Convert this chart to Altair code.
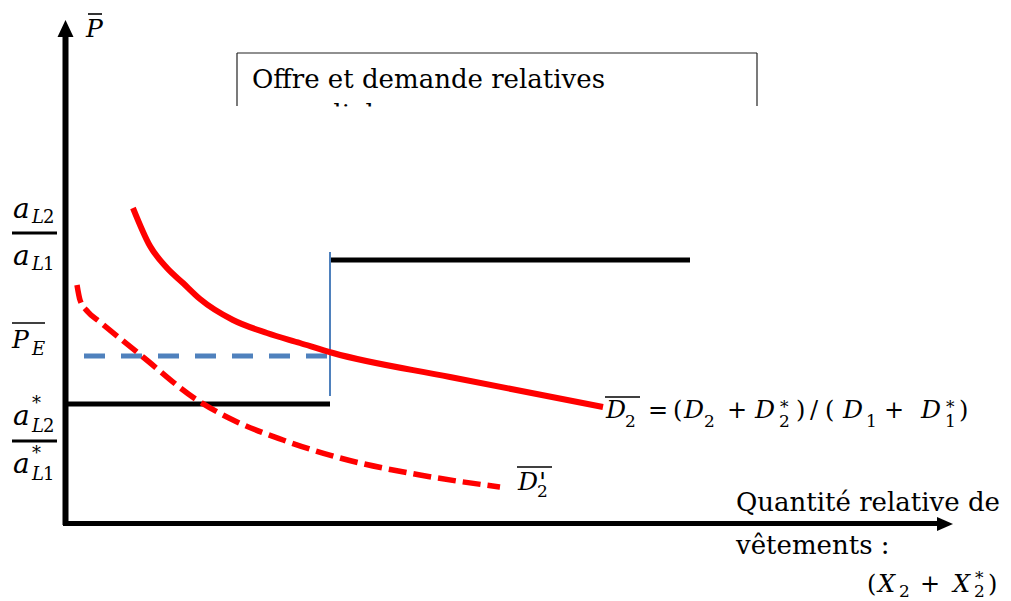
import altair as alt
import pandas as pd

# ---------------- data (relative quantity q, relative price p; origin = axes corner)
# relative demand D2 (solid red)
d2_q = [67, 84, 101, 117, 134, 167, 201, 234, 267, 384, 537]
d2_p = [315, 277, 255, 240, 224, 203, 190, 180, 170, 146, 116]
# shifted relative demand D2' (dashed red)
d2p_q = [11, 14, 22, 34, 77, 131, 167, 217, 274, 354, 434]
d2p_p = [238, 223, 211, 201, 166, 123, 103, 83, 65, 48, 36]
# relative supply (step)
supply_q_start = [0, 264]
supply_q_end = [264, 624]
supply_p = [119, 263]
# equilibrium
q_eq = 264
p_eq = 167
vert_p = [127, 271]

X_DOM = [-58, 937]
Y_DOM = [-78, 515]
xs = alt.Scale(domain=X_DOM, nice=False, zero=False)
ys = alt.Scale(domain=Y_DOM, nice=False, zero=False)


def X(f):
    return alt.X(f, type="quantitative", scale=xs, axis=None)


def Y(f):
    return alt.Y(f, type="quantitative", scale=ys, axis=None)


RED = "#ff0000"
BLUE = "#4f81bd"
FONT = "DejaVu Serif"

curve_d2 = pd.DataFrame({"x": d2_q, "y": d2_p, "o": range(len(d2_q))})
curve_d2p = pd.DataFrame({"x": d2p_q, "y": d2p_p, "o": range(len(d2p_q))})
supply = pd.DataFrame({"x": supply_q_start, "x2": supply_q_end, "y": supply_p})

layers = []

# title box (second line hidden below the frame)
title_df = pd.DataFrame({"x": [186, 202], "y": [435, 400],
                         "t": ["Offre et demande relatives", "mondiales"]})
layers.append(alt.Chart(title_df).mark_text(font=FONT, fontSize=26, align="left",
                                            baseline="alphabetic", color="black")
              .encode(x=X("x"), y=Y("y"), text="t:N"))
layers.append(alt.Chart(pd.DataFrame({"x": [130], "x2": [740], "y": [416.5], "y2": [370]}))
              .mark_rect(color="white").encode(x=X("x"), x2="x2:Q", y=Y("y"), y2="y2:Q"))
box = pd.DataFrame({"x": [171, 171, 691], "x2": [691, 171, 691],
                    "y": [470, 470, 470], "y2": [470, 417, 417]})
layers.append(alt.Chart(box).mark_rule(color="#222222", strokeWidth=1.2)
              .encode(x=X("x"), x2="x2:Q", y=Y("y"), y2="y2:Q"))

# supply steps
layers.append(alt.Chart(supply).mark_rule(color="black", strokeWidth=5)
              .encode(x=X("x"), x2="x2:Q", y=Y("y")))
# equilibrium guides
layers.append(alt.Chart(pd.DataFrame({"x": [q_eq], "y": [vert_p[0]], "y2": [vert_p[1]]}))
              .mark_rule(color=BLUE, strokeWidth=2).encode(x=X("x"), y=Y("y"), y2="y2:Q"))
layers.append(alt.Chart(pd.DataFrame({"x": [0], "x2": [q_eq], "y": [p_eq]}))
              .mark_rule(color=BLUE, strokeWidth=5, strokeDash=[21, 16], strokeDashOffset=19)
              .encode(x=X("x"), x2="x2:Q", y=Y("y")))

# demand curves
layers.append(alt.Chart(curve_d2).mark_line(color=RED, strokeWidth=6, interpolate="monotone")
              .encode(x=X("x"), y=Y("y"), order="o:Q"))
layers.append(alt.Chart(curve_d2p).mark_line(color=RED, strokeWidth=5.5, strokeDash=[18, 7],
                                             interpolate="monotone")
              .encode(x=X("x"), y=Y("y"), order="o:Q"))

# axes
axes = pd.DataFrame({"x": [-0.5, -3], "x2": [-0.5, 872], "y": [-2, -0.5], "y2": [487, -0.5]})
layers.append(alt.Chart(axes.iloc[[0]]).mark_rule(color="black", strokeWidth=6)
              .encode(x=X("x"), x2="x2:Q", y=Y("y"), y2="y2:Q"))
layers.append(alt.Chart(axes.iloc[[1]]).mark_rule(color="black", strokeWidth=5)
              .encode(x=X("x"), x2="x2:Q", y=Y("y"), y2="y2:Q"))
layers.append(alt.Chart(pd.DataFrame({"x": [-0.5], "y": [503]}))
              .mark_point(shape="M0,0L0.47,1L-0.47,1Z", size=1156, filled=True,
                          color="black", opacity=1, strokeWidth=0)
              .encode(x=X("x"), y=Y("y")))
layers.append(alt.Chart(pd.DataFrame({"x": [887], "y": [-1]}))
              .mark_point(shape="M0,0L-1,-0.44L-1,0.44Z", size=1024, filled=True,
                          color="black", opacity=1, strokeWidth=0)
              .encode(x=X("x"), y=Y("y")))

# overlines and fraction bars
bars = pd.DataFrame({
    "x": [22, -54, -54, -54, 539, 451],
    "x2": [36, -9, -21, -9, 574, 486],
    "y": [509, 290, 200, 82, 126, 56],
    "w": [1.6, 3, 1.6, 3, 1.6, 1.6],
})
layers.append(alt.Chart(bars).mark_rule(color="black")
              .encode(x=X("x"), x2="x2:Q", y=Y("y"), strokeWidth=alt.StrokeWidth("w:Q", scale=None)))

# italic math pieces
ital = pd.DataFrame([
    ("P", 20, 486, 25),
    ("a", -53, 305, 28), ("L", -34, 300, 18),
    ("a", -53, 258, 28), ("L", -34, 253, 18),
    ("P", -54, 175, 25), ("E", -34, 168, 18),
    ("a", -53, 98, 28), ("L", -34, 91, 18),
    ("a", -53, 50, 28), ("L", -34, 43, 18),
    ("D", 540, 105, 25), ("D", 618, 105, 25), ("D", 689, 105, 25),
    ("D", 777, 105, 25), ("D", 855, 105, 25),
    ("D", 452, 33, 25), ("'", 473, 32, 26),
    ("X", 812, -69, 24), ("X", 887, -69, 24),
], columns=["t", "x", "y", "s"])
layers.append(alt.Chart(ital).mark_text(font=FONT, fontStyle="italic", align="left",
                                        baseline="alphabetic", color="black")
              .encode(x=X("x"), y=Y("y"), text="t:N", size=alt.Size("s:Q", scale=None)))

# upright pieces
upr = pd.DataFrame([
    ("2", -23, 300, 18), ("1", -23, 253, 18),
    ("*", -34, 114, 18), ("2", -23, 91, 18),
    ("*", -34, 64, 18), ("1", -23, 43, 18),
    ("2", 559, 96, 17), ("=", 582, 105, 24), ("(", 607, 105, 24),
    ("2", 638, 96, 17), ("+", 661, 105, 24),
    ("*", 714, 110, 17), ("2", 713, 96, 17), (")", 730, 105, 24),
    ("/", 744, 105, 24), ("(", 759, 105, 24), ("1", 800, 96, 17),
    ("+", 818, 105, 24), ("*", 880, 110, 17), ("1", 879, 96, 17), (")", 893, 105, 24),
    ("2", 471, 26, 17),
    ("Quantité relative de", 670, 12, 26), ("vêtements :", 670, -31, 26),
    ("(", 801, -69, 24), ("2", 833, -74, 17), ("+", 854, -69, 24),
    ("*", 909, -61, 17), ("2", 908, -74, 17), (")", 922, -69, 24),
], columns=["t", "x", "y", "s"])
layers.append(alt.Chart(upr).mark_text(font=FONT, align="left",
                                       baseline="alphabetic", color="black")
              .encode(x=X("x"), y=Y("y"), text="t:N", size=alt.Size("s:Q", scale=None)))

chart = alt.layer(*layers).properties(
    width=995, height=593, padding=0, autosize="none", background="white"
).configure_view(stroke=None)

chart.save("out.html", embed_options={"renderer": "svg", "actions": False})
